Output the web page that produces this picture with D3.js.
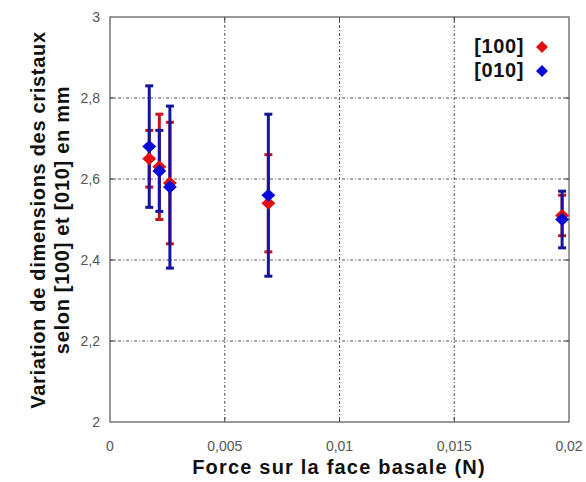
<!DOCTYPE html>
<html><head><meta charset="utf-8">
<script src="https://cdn.jsdelivr.net/npm/d3@7"></script>
<style>body{margin:0;background:#fff}svg{display:block}</style>
</head><body>
<script>
// ---- data ----
const force   = [0.00171, 0.00215, 0.00261, 0.0069, 0.0197];
const v100    = [2.65, 2.63, 2.59, 2.54, 2.51];
const lo100   = [2.58, 2.50, 2.44, 2.42, 2.46];
const hi100   = [2.72, 2.76, 2.74, 2.66, 2.56];
const v010    = [2.68, 2.62, 2.58, 2.56, 2.50];
const lo010   = [2.53, 2.52, 2.38, 2.36, 2.43];
const hi010   = [2.83, 2.72, 2.78, 2.76, 2.57];
const xTicks  = [0, 0.005, 0.01, 0.015, 0.02];
const xTickLabels = ["0", "0,005", "0,01", "0,015", "0,02"];
const yTicks  = [2, 2.2, 2.4, 2.6, 2.8, 3];
const yTickLabels = ["2", "2,2", "2,4", "2,6", "2,8", "3"];
const seriesNames = ["[100]", "[010]"];

const W = 586, H = 482;
const L = 110, R = 569, T = 17, B = 422;
const x = d3.scaleLinear().domain([0, 0.02]).range([L, R]);
const y = d3.scaleLinear().domain([2, 3]).range([B, T]);

const svg = d3.select("body").append("svg").attr("width", W).attr("height", H);
svg.append("rect").attr("width", W).attr("height", H).attr("fill", "#fff");

const font = "'Liberation Sans', Arial, Helvetica, sans-serif";
const gridDash = "3,2,1,2";

// grid
const g = svg.append("g");
g.selectAll(".vg").data(xTicks.slice(1, -1)).join("line")
  .attr("x1", d => x(d)).attr("x2", d => x(d)).attr("y1", T).attr("y2", B)
  .attr("stroke", "#555").attr("stroke-width", 1).attr("stroke-dasharray", gridDash);
g.selectAll(".hg").data(yTicks.slice(1, -1)).join("line")
  .attr("x1", L).attr("x2", R).attr("y1", d => y(d)).attr("y2", d => y(d))
  .attr("stroke", "#555").attr("stroke-width", 1).attr("stroke-dasharray", gridDash);

// inward ticks
const tl = 5;
xTicks.slice(1, -1).forEach(d => {
  g.append("line").attr("x1", x(d)).attr("x2", x(d)).attr("y1", B).attr("y2", B - tl).attr("stroke", "#444");
  g.append("line").attr("x1", x(d)).attr("x2", x(d)).attr("y1", T).attr("y2", T + tl).attr("stroke", "#444");
});
yTicks.slice(1, -1).forEach(d => {
  g.append("line").attr("x1", L).attr("x2", L + tl).attr("y1", y(d)).attr("y2", y(d)).attr("stroke", "#444");
  g.append("line").attr("x1", R).attr("x2", R - tl).attr("y1", y(d)).attr("y2", y(d)).attr("stroke", "#444");
});

// legend background
svg.append("rect").attr("x", 460).attr("y", 27).attr("width", R - 461).attr("height", 66).attr("fill", "#fff");

// frame
svg.append("rect").attr("x", L).attr("y", T).attr("width", R - L).attr("height", B - T)
  .attr("fill", "none").attr("stroke", "#555").attr("stroke-width", 1.2);

// tick labels
svg.selectAll(".xl").data(xTicks).join("text")
  .attr("x", d => x(d)).attr("y", 446).attr("dy", "0.35em").attr("text-anchor", "middle")
  .attr("font-family", font).attr("font-size", 14).attr("fill", "#555")
  .text((d, i) => xTickLabels[i]);
svg.selectAll(".yl").data(yTicks).join("text")
  .attr("x", 100).attr("y", d => y(d)).attr("dy", "0.35em").attr("text-anchor", "end")
  .attr("font-family", font).attr("font-size", 14).attr("fill", "#555")
  .text((d, i) => yTickLabels[i]);

// axis titles
svg.append("text").attr("x", 339).attr("y", 467).attr("dy", "0.35em").attr("text-anchor", "middle")
  .attr("font-family", font).attr("font-weight", "bold").attr("font-size", 20)
  .attr("letter-spacing", 1.2).attr("fill", "#111")
  .text("Force sur la face basale (N)");
const yt = svg.append("text").attr("transform", "translate(0,220) rotate(-90)")
  .attr("text-anchor", "middle").attr("font-family", font).attr("font-weight", "bold")
  .attr("font-size", 20).attr("letter-spacing", 0.7).attr("fill", "#111");
yt.append("tspan").attr("x", 0).attr("y", 45).text("Variation de dimensions des cristaux");
yt.append("tspan").attr("x", 0).attr("y", 69).text("selon [100] et [010] en mm");

// error bars
function errBars(vals, lo, hi, color) {
  const eg = svg.append("g");
  force.forEach((f, i) => {
    const cx = x(f);
    eg.append("line").attr("x1", cx).attr("x2", cx).attr("y1", y(lo[i])).attr("y2", y(hi[i]))
      .attr("stroke", color).attr("stroke-width", 3);
    [lo[i], hi[i]].forEach(v => {
      eg.append("line").attr("x1", cx - 4).attr("x2", cx + 4).attr("y1", y(v)).attr("y2", y(v))
        .attr("stroke", color).attr("stroke-width", 3);
    });
  });
}
function diamonds(vals, color, hw, hh) {
  svg.append("g").selectAll("path").data(force).join("path")
    .attr("d", (f, i) => {
      const cx = x(f), cy = y(vals[i]);
      return `M${cx},${cy - hh}L${cx + hw},${cy}L${cx},${cy + hh}L${cx - hw},${cy}Z`;
    })
    .attr("fill", color);
}
errBars(v100, lo100, hi100, "#c4141c");
errBars(v010, lo010, hi010, "#14149e");
diamonds(v100, "#e01010", 7, 6.5);
diamonds(v010, "#0a0ad8", 7, 6.5);

// legend
const legColors = ["#e01010", "#0a0ad8"];
seriesNames.forEach((n, i) => {
  const ly = 46 + i * 24;
  svg.append("text").attr("x", 524).attr("y", ly).attr("dy", "0.35em").attr("text-anchor", "end")
    .attr("font-family", font).attr("font-weight", "bold").attr("font-size", 20)
    .attr("letter-spacing", 0.6).attr("fill", "#111").text(n);
  const cx = 542, cy = ly + 1;
  svg.append("path").attr("d", `M${cx},${cy - 6}L${cx + 6},${cy}L${cx},${cy + 6}L${cx - 6},${cy}Z`)
    .attr("fill", legColors[i]);
});
</script>
</body></html>
